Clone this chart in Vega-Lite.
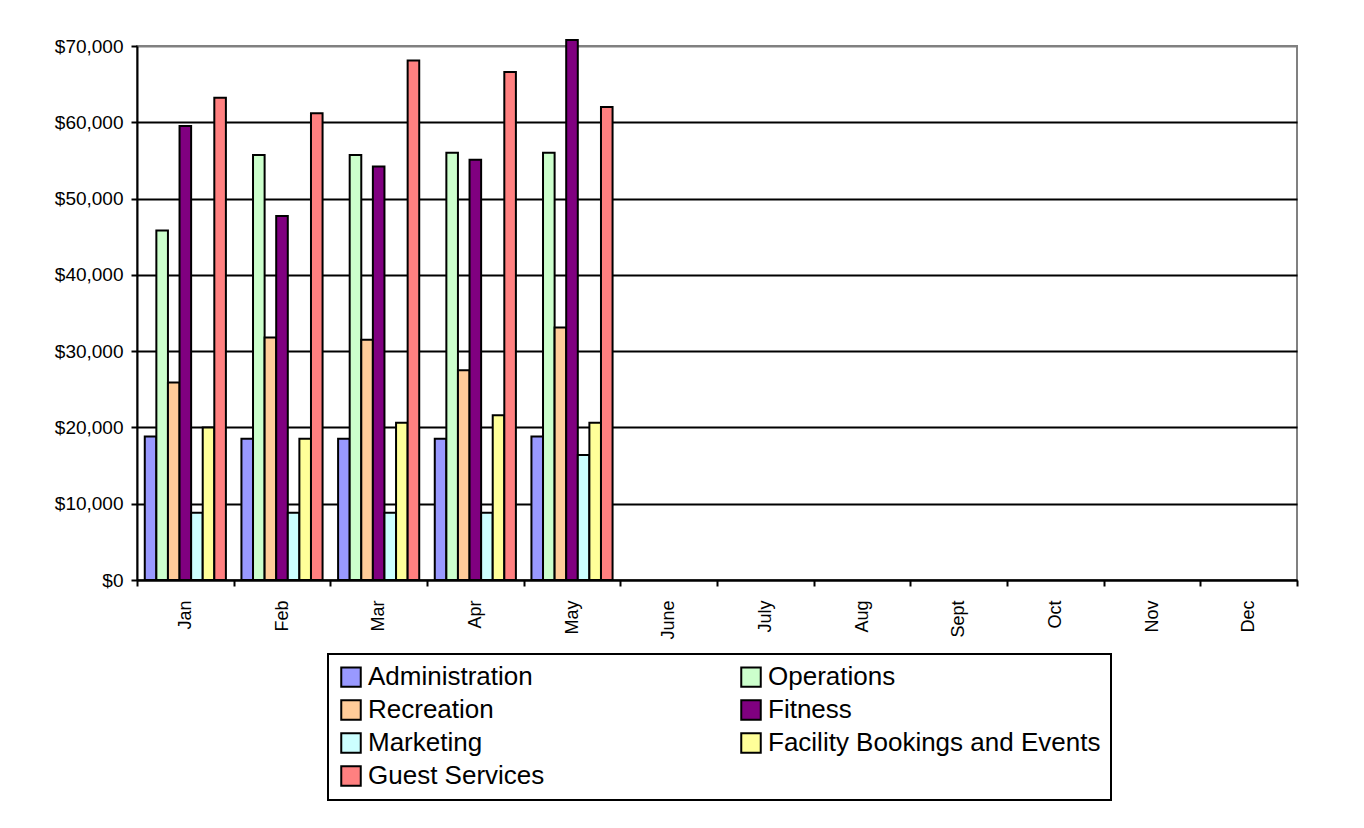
{
  "$schema": "https://vega.github.io/schema/vega-lite/v6.json",
  "autosize": {"type": "none"},
  "width": 1160,
  "height": 534,
  "padding": {"left": 137, "top": 46, "right": 67, "bottom": 248},
  "background": "white",
  "config": {
    "font": "Liberation Sans",
    "view": {"stroke": "#808080", "strokeWidth": 2},
    "legend": {"strokeWidth": 2}
  },
  "data": {
    "values": [
      {"month": "Jan", "dept": "Administration", "value": 18800},
      {"month": "Jan", "dept": "Operations", "value": 45800},
      {"month": "Jan", "dept": "Recreation", "value": 25900},
      {"month": "Jan", "dept": "Fitness", "value": 59500},
      {"month": "Jan", "dept": "Marketing", "value": 8800},
      {"month": "Jan", "dept": "Facility Bookings and Events", "value": 20000},
      {"month": "Jan", "dept": "Guest Services", "value": 63200},
      {"month": "Feb", "dept": "Administration", "value": 18500},
      {"month": "Feb", "dept": "Operations", "value": 55700},
      {"month": "Feb", "dept": "Recreation", "value": 31800},
      {"month": "Feb", "dept": "Fitness", "value": 47700},
      {"month": "Feb", "dept": "Marketing", "value": 8800},
      {"month": "Feb", "dept": "Facility Bookings and Events", "value": 18500},
      {"month": "Feb", "dept": "Guest Services", "value": 61200},
      {"month": "Mar", "dept": "Administration", "value": 18500},
      {"month": "Mar", "dept": "Operations", "value": 55700},
      {"month": "Mar", "dept": "Recreation", "value": 31500},
      {"month": "Mar", "dept": "Fitness", "value": 54200},
      {"month": "Mar", "dept": "Marketing", "value": 8800},
      {"month": "Mar", "dept": "Facility Bookings and Events", "value": 20600},
      {"month": "Mar", "dept": "Guest Services", "value": 68100},
      {"month": "Apr", "dept": "Administration", "value": 18500},
      {"month": "Apr", "dept": "Operations", "value": 56000},
      {"month": "Apr", "dept": "Recreation", "value": 27500},
      {"month": "Apr", "dept": "Fitness", "value": 55100},
      {"month": "Apr", "dept": "Marketing", "value": 8800},
      {"month": "Apr", "dept": "Facility Bookings and Events", "value": 21600},
      {"month": "Apr", "dept": "Guest Services", "value": 66600},
      {"month": "May", "dept": "Administration", "value": 18800},
      {"month": "May", "dept": "Operations", "value": 56000},
      {"month": "May", "dept": "Recreation", "value": 33100},
      {"month": "May", "dept": "Fitness", "value": 70800},
      {"month": "May", "dept": "Marketing", "value": 16400},
      {"month": "May", "dept": "Facility Bookings and Events", "value": 20600},
      {"month": "May", "dept": "Guest Services", "value": 62000}
    ]
  },
  "mark": {"type": "bar", "stroke": "black", "strokeWidth": 2},
  "encoding": {
    "x": {
      "field": "month",
      "type": "nominal",
      "sort": null,
      "scale": {
        "domain": ["Jan", "Feb", "Mar", "Apr", "May", "June", "July", "Aug", "Sept", "Oct", "Nov", "Dec"],
        "paddingInner": 0,
        "paddingOuter": 0
      },
      "axis": {
        "title": null,
        "labelAngle": -90,
        "labelAlign": "right",
        "labelBaseline": "middle",
        "labelFontSize": 18,
        "labelColor": "black",
        "labelPadding": 14,
        "tickBand": "extent",
        "tickColor": "black",
        "tickSize": 6,
        "tickWidth": 2,
        "domainColor": "black",
        "domainWidth": 2,
        "grid": false
      }
    },
    "xOffset": {
      "field": "dept",
      "type": "nominal",
      "scale": {
        "domain": ["Administration", "Operations", "Recreation", "Fitness", "Marketing", "Facility Bookings and Events", "Guest Services"],
        "paddingInner": 0,
        "paddingOuter": 0.67
      }
    },
    "y": {
      "field": "value",
      "type": "quantitative",
      "scale": {"domain": [0, 70000], "nice": false},
      "axis": {
        "title": null,
        "values": [0, 10000, 20000, 30000, 40000, 50000, 60000, 70000],
        "format": "$,.0f",
        "labelFontSize": 19,
        "labelColor": "black",
        "labelPadding": 8,
        "tickColor": "black",
        "tickSize": 6,
        "tickWidth": 2,
        "domainColor": "black",
        "domainWidth": 2,
        "grid": true,
        "gridColor": {"condition": {"test": "datum.value === 70000", "value": "#808080"}, "value": "black"},
        "gridWidth": 2,
        "gridOpacity": 1
      }
    },
    "color": {
      "field": "dept",
      "type": "nominal",
      "scale": {
        "domain": ["Administration", "Operations", "Recreation", "Fitness", "Marketing", "Facility Bookings and Events", "Guest Services"],
        "range": ["#9999FF", "#CCFFCC", "#FFCC99", "#800080", "#CCFFFF", "#FFFF99", "#FF8080"]
      },
      "legend": {
        "title": null,
        "orient": "none",
        "direction": "horizontal",
        "legendX": 191,
        "legendY": 608,
        "columns": 2,
        "columnPadding": 192,
        "rowPadding": 5,
        "labelFontSize": 26,
        "labelColor": "black",
        "labelLimit": 600,
        "labelOffset": 4,
        "symbolType": "square",
        "symbolSize": 380,
        "symbolStrokeColor": "black",
        "symbolStrokeWidth": 2,
        "symbolOpacity": 1,
        "strokeColor": "black",
        "fillColor": "white",
        "padding": 10
      }
    }
  }
}
